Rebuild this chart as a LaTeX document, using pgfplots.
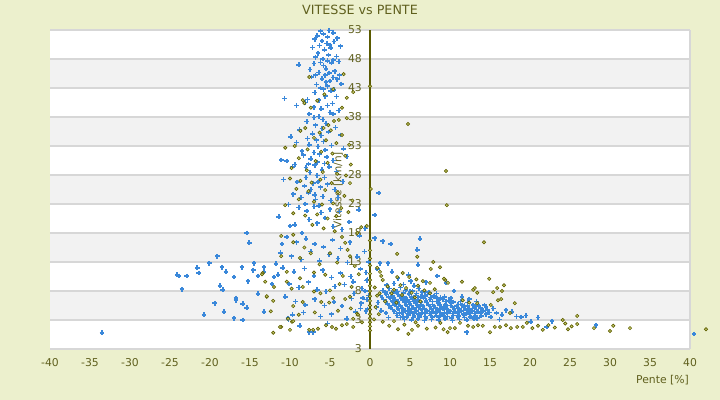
\documentclass[border=0pt]{standalone}
\usepackage{pgfplots}
\pgfplotsset{compat=1.18}
\usepackage{fontspec}
\setmainfont{DejaVu Sans}
\definecolor{bg}{RGB}{236,240,205}
\definecolor{band}{RGB}{242,242,242}
\definecolor{gridc}{RGB}{215,215,215}
\definecolor{olivetxt}{RGB}{96,96,30}
\definecolor{axisc}{RGB}{90,90,0}
\definecolor{blues}{RGB}{58,136,218}
\definecolor{olives}{RGB}{95,95,0}
\definecolor{olivefill}{RGB}{205,210,120}

\pgfplotstableread{
x y
-6.2 52.8
-5.1 52.9
-5.8 52.3
-4.6 52.5
-6.9 51.4
-6.0 51.1
-5.4 50.7
-4.5 51.0
-7.2 50.0
-5.7 49.6
-4.9 49.9
-3.7 50.2
-6.5 49.0
-5.2 48.7
-4.2 48.4
-8.9 47.0
-7.0 47.2
-5.8 46.9
-4.8 47.3
-5.5 46.3
-6.4 45.7
-4.4 45.9
-3.8 45.2
-6.0 44.6
-5.0 44.2
-7.3 44.9
-5.6 45.2
-4.6 44.8
-6.7 43.6
-5.3 43.3
-3.6 43.7
-4.5 42.7
-10.7 41.2
-6.9 42.2
-5.6 41.6
-7.8 41.0
-9.2 40.0
-8.1 40.5
-4.7 40.3
-6.1 39.4
-5.0 38.8
-7.6 38.5
-6.4 38.1
-3.9 39.1
-6.6 52.0
-5.3 51.8
-4.1 51.6
-6.3 50.3
-5.0 50.4
-6.8 48.3
-5.9 48.0
-4.6 47.8
-3.9 47.6
-6.2 47.4
-5.3 47.7
-7.5 46.2
-6.8 45.2
-5.1 45.6
-4.1 44.5
-5.5 44.0
-6.2 43.0
-4.9 42.5
-5.8 42.8
-4.2 41.5
-6.4 40.9
-5.3 40.0
-7.0 39.7
-4.6 38.5
-5.9 37.6
-7.0 37.9
-6.0 36.0
-7.8 34.3
-6.7 34.0
-5.6 32.3
-7.0 31.9
-6.6 30.2
-7.7 29.9
-5.7 30.0
-8.0 27.6
-6.5 26.8
-7.4 25.5
-6.9 24.6
-8.1 23.0
-6.4 22.7
-9.9 34.6
-11.1 30.6
-10.4 30.4
-8.5 32.1
-9.7 29.4
-7.9 37.2
-6.8 36.6
-5.5 36.9
-4.3 36.2
-8.8 35.8
-7.2 35.1
-6.1 34.8
-5.2 35.4
-3.7 34.9
-9.2 33.6
-7.6 33.2
-6.5 32.9
-5.8 33.8
-4.8 33.1
-3.3 32.5
-8.3 31.4
-7.4 30.8
-6.3 31.6
-5.4 31.1
-4.6 30.5
-2.9 31.2
-9.4 29.8
-8.0 29.3
-6.9 29.7
-6.0 28.9
-5.1 29.4
-4.2 28.6
-7.5 28.4
-6.6 27.9
-5.7 27.6
-10.8 27.2
-9.1 26.8
-8.2 26.1
-7.1 26.6
-6.2 25.9
-5.3 26.4
-4.4 25.5
-3.4 26.9
-9.6 24.7
-8.6 24.1
-7.7 24.9
-6.8 23.8
-5.9 24.3
-4.9 23.6
-4.0 24.1
-10.2 22.9
-8.9 22.4
-7.9 21.8
-7.0 22.6
-6.1 21.5
-5.0 22.1
-3.8 21.7
-11.4 20.8
-10.0 19.2
-9.4 19.4
-8.5 18.0
-7.6 20.3
-6.6 19.7
-5.6 20.6
-4.6 19.1
-3.5 18.6
-2.6 19.9
-1.4 22.0
-0.6 18.8
-10.4 17.3
-9.2 16.4
-8.0 17.0
-6.9 16.1
-5.8 15.6
-4.7 16.8
-3.7 15.3
-2.5 16.4
-1.3 17.5
-11.2 14.6
-9.8 14.0
-8.6 13.4
-7.4 14.8
-6.3 13.2
-5.1 14.3
-4.0 13.6
-2.8 12.9
-1.6 13.9
-0.7 14.8
-10.9 12.0
-9.5 11.3
-8.2 11.9
-7.0 10.6
-5.9 11.6
-4.8 10.3
-3.7 11.1
-2.4 10.5
-2.1 9.6
-1.2 11.8
-0.4 9.8
-10.1 9.2
-8.9 8.6
-7.7 9.5
-6.6 8.2
-5.5 7.9
-4.4 8.8
-3.2 9.1
-2.0 7.6
-1.0 8.4
-10.6 7.0
-9.3 6.2
-8.1 5.6
-6.9 6.6
-5.7 5.5
-4.5 6.1
-3.5 5.4
-2.3 6.7
-1.1 5.9
-0.4 6.5
-0.3 4.9
-9.7 3.9
-8.3 4.3
-6.2 3.6
-4.8 4.0
-2.9 3.2
-1.8 4.4
-10.2 3.1
-8.8 2.0
-7.6 0.9
-7.1 0.9
-5.3 2.4
-0.2 13.0
-0.5 11.2
-0.3 10.0
-0.6 8.0
-0.2 7.2
-0.9 6.8
-1.2 5.0
-0.5 4.5
-15.4 18.0
-15.1 16.3
-19.1 14.0
-20.1 12.8
-21.6 12.0
-21.4 11.1
-23.9 10.6
-22.9 10.6
-23.5 8.3
-18.5 12.1
-18.0 11.3
-17.0 10.4
-16.0 12.1
-15.25 9.7
-18.75 8.9
-18.4 8.2
-19.4 5.9
-16.75 6.8
-16.75 6.4
-15.9 5.8
-15.4 5.1
-18.25 4.4
-20.75 3.9
-17.0 3.3
-15.9 3.0
-14.5 12.8
-14.6 11.6
-14.0 10.6
-13.25 12.1
-13.25 11.3
-14.0 7.5
-13.25 4.4
-12.0 10.4
-11.75 12.7
-11.0 16.1
-11.5 10.8
-12.25 9.2
-10.25 3.3
-8.75 2.0
-24.1 10.8
-33.5 0.8
1.6 8.1
2.4 8.4
3.1 7.9
3.8 8.6
4.5 8.2
5.3 8.0
6.1 8.4
6.9 7.8
1.3 7.2
2.0 7.5
2.8 7.1
3.5 7.4
4.2 7.0
4.9 7.5
5.7 7.2
6.4 7.0
7.2 7.4
8.0 7.1
8.8 6.9
1.7 6.5
2.5 6.8
3.2 6.4
3.9 6.7
4.6 6.3
5.3 6.6
6.0 6.4
6.7 6.8
7.5 6.5
8.3 6.2
9.1 6.6
9.9 6.3
2.2 5.8
2.9 6.0
3.6 5.7
4.3 6.1
5.0 5.8
5.7 5.9
6.4 5.6
7.1 6.0
7.8 5.7
8.6 5.9
9.4 5.6
10.2 5.9
11.0 5.7
11.8 5.5
2.6 5.1
3.3 5.3
4.0 5.0
4.7 5.3
5.4 5.1
6.1 5.2
6.8 4.9
7.5 5.3
8.2 5.0
8.9 5.2
9.6 4.9
10.3 5.2
11.0 5.0
11.7 5.2
12.4 4.9
13.1 5.1
13.8 5.0
14.5 5.2
3.0 4.5
3.7 4.3
4.4 4.6
5.1 4.4
5.8 4.6
6.5 4.3
7.2 4.5
7.9 4.4
8.6 4.6
9.3 4.3
10.0 4.5
10.7 4.4
11.4 4.6
12.1 4.3
12.8 4.5
13.5 4.4
14.2 4.6
14.9 4.3
3.4 3.8
4.1 3.6
4.8 3.9
5.5 3.7
6.2 3.9
6.9 3.6
7.6 3.8
8.3 3.7
9.0 3.9
9.7 3.6
10.4 3.8
11.1 3.7
11.8 3.9
12.5 3.6
13.2 3.8
13.9 3.7
4.3 3.1
5.2 3.0
6.0 3.2
6.8 2.9
7.7 3.1
8.6 3.0
9.4 3.2
10.3 2.9
11.2 3.1
12.1 3.0
13.0 3.2
1.9 7.8
2.7 7.7
3.4 7.9
4.2 7.7
5.0 7.9
5.8 7.6
6.5 7.8
7.4 7.7
8.3 7.6
1.5 6.9
2.3 7.0
3.0 6.9
3.7 7.1
4.5 6.8
5.2 7.0
6.0 6.9
6.8 7.1
7.6 6.9
8.4 6.8
9.3 7.0
10.1 6.8
2.0 6.2
2.8 6.3
3.5 6.2
4.2 6.4
4.9 6.2
5.6 6.3
6.3 6.1
7.0 6.3
7.8 6.2
8.6 6.4
9.5 6.2
10.4 6.1
11.3 6.2
12.2 6.0
2.4 5.5
3.1 5.6
3.8 5.4
4.5 5.6
5.2 5.5
5.9 5.6
6.6 5.4
7.3 5.6
8.0 5.4
8.7 5.6
9.4 5.3
10.1 5.5
10.8 5.4
11.5 5.6
12.2 5.4
12.9 5.6
13.6 5.4
14.3 5.6
2.8 4.8
3.5 4.9
4.2 4.8
4.9 4.9
5.6 4.8
6.3 4.9
7.0 4.7
7.7 4.9
8.4 4.8
9.1 4.9
9.8 4.7
10.5 4.9
11.2 4.8
11.9 4.9
12.6 4.7
13.3 4.8
14.0 4.9
14.7 4.7
3.3 4.1
4.0 4.2
4.7 4.1
5.4 4.2
6.1 4.0
6.8 4.2
7.5 4.1
8.2 4.2
8.9 4.0
9.6 4.2
10.3 4.1
11.0 4.2
11.7 4.0
12.4 4.2
13.1 4.1
13.8 4.2
14.5 4.0
3.8 3.4
4.6 3.5
5.4 3.4
6.2 3.5
7.0 3.3
7.8 3.5
8.6 3.4
9.4 3.5
10.2 3.3
11.0 3.5
11.8 3.4
12.6 3.5
13.4 3.3
2.1 9.0
3.0 9.3
4.2 9.1
5.5 8.9
1.0 6.0
0.8 5.2
1.4 4.6
2.0 4.2
2.3 3.4
15.4 5.0
15.8 4.2
16.5 3.9
17.0 4.7
17.75 4.4
18.3 3.6
18.9 3.5
19.5 3.8
20.1 2.7
21.0 3.4
22.75 2.8
22.1 1.8
16.2 3.1
15.1 3.5
12.1 0.9
28.25 2.1
40.5 0.6
0.6 17.1
1.6 16.6
2.6 16.1
6.25 17.0
5.9 15.1
6.0 12.5
1.25 12.8
2.25 12.8
0.9 11.8
2.75 11.3
8.4 10.6
9.5 9.4
1.1 24.9
0.6 21.1
10.5 8.0
11.5 7.0
12.4 6.6
13.3 6.2
7.0 9.5
3.5 10.2
4.8 10.8
5.1 9.7
}\bluedata

\pgfplotstableread{
x y
-7.6 44.9
-3.3 45.4
-2.1 42.3
-2.9 41.3
-8.4 40.9
-8.2 40.4
-7.4 39.6
-6.6 40.8
-5.7 41.9
-4.6 42.8
-3.5 39.6
-2.9 37.8
-3.9 37.5
-4.5 37.3
-5.2 36.6
-5.8 36.1
-4.9 35.7
-6.3 35.3
-8.1 36.1
-8.7 35.6
-3.5 34.9
-7.0 34.4
-5.5 34.0
-4.2 33.5
-2.6 33.2
-9.4 33.0
-10.6 32.7
-7.8 32.4
-6.1 32.0
-4.7 31.7
-3.1 31.3
-8.9 30.9
-6.8 30.4
-5.3 30.1
-2.4 29.8
-9.8 29.2
-7.9 28.8
-5.9 28.5
-4.1 28.2
-3.0 27.9
-10.0 27.4
-8.7 27.0
-7.3 26.7
-6.2 27.2
-4.8 26.6
-2.5 26.6
-9.2 25.6
-7.7 25.2
-5.6 25.4
-4.0 25.0
-3.2 24.4
-10.6 22.8
-8.9 23.8
-7.0 23.4
-6.0 22.9
-4.6 23.1
-3.6 22.3
-2.2 23.6
-9.6 21.4
-8.1 21.0
-6.6 21.2
-5.3 20.5
-4.2 20.9
-2.7 21.6
-1.1 19.0
-0.4 19.2
-1.6 18.0
-7.2 19.4
-5.8 18.8
-4.4 18.3
-3.5 17.3
-9.6 17.7
-11.1 17.5
-9.6 16.4
-8.2 15.5
-7.4 14.5
-5.0 14.5
-3.1 16.3
-2.8 15.1
-2.5 14.0
-11.1 14.0
-8.75 13.7
-6.3 12.6
-4.1 12.9
-1.9 12.3
-13.4 11.1
-10.4 11.3
-8.75 10.2
-7.0 11.2
-5.6 10.8
-3.4 10.6
-1.4 10.9
-13.1 9.6
-12.0 8.7
-10.4 9.6
-9.8 8.4
-8.4 8.7
-7.0 7.9
-6.2 7.6
-5.0 8.1
-4.6 6.8
-3.8 9.2
-2.3 8.7
-12.9 7.0
-12.1 6.3
-9.6 5.4
-8.4 6.1
-6.1 6.1
-5.1 6.0
-3.1 6.6
-2.5 7.0
-2.4 5.0
-1.6 4.1
-2.1 3.2
-1.5 3.9
-10.25 3.2
-9.75 2.7
-11.1 1.8
-12.1 0.8
-7.6 1.3
-7.1 1.3
-6.5 1.5
-5.5 2.1
-4.75 1.8
-4.25 1.5
-3.5 2.1
-2.9 2.3
-2.1 1.8
-6.9 4.3
-8.9 3.9
-4.0 4.6
-1.0 2.6
-13.5 10.9
-12.9 7.1
-12.4 4.5
-11.25 1.8
-10.0 1.3
-9.6 2.8
0.0 1.2
0.0 1.9
0.0 2.6
0.0 3.3
0.0 4.0
0.0 4.8
0.0 5.5
0.0 6.3
0.0 7.1
0.0 8.0
0.0 8.9
0.0 9.9
0.0 11.0
0.0 12.4
0.0 13.6
0.0 15.0
0.0 16.7
0.1 25.6
0.0 43.3
0.6 8.6
0.9 7.2
0.7 5.2
1.1 4.0
0.5 3.1
0.9 12.0
1.25 11.3
1.4 10.6
1.6 9.9
3.4 10.4
4.1 11.1
3.4 14.4
5.9 13.9
7.9 13.0
8.75 12.1
7.6 11.8
14.25 16.4
4.9 10.4
5.8 10.0
6.6 9.7
7.5 9.4
9.4 9.9
9.75 9.4
9.25 10.1
11.5 9.6
14.9 10.1
16.75 9.0
12.9 8.2
13.4 7.7
13.1 8.5
15.4 7.8
15.9 8.5
16.5 8.0
16.4 6.6
16.0 6.4
18.1 5.9
11.6 6.4
12.4 6.0
13.4 5.9
15.1 5.6
17.5 4.2
2.2 8.8
3.0 8.2
3.8 9.0
4.5 8.5
5.2 7.7
6.0 8.9
6.8 8.1
7.5 7.6
2.7 7.6
4.0 7.3
5.6 6.9
8.1 8.3
1.9 6.2
1.2 7.6
3.3 6.0
6.3 6.2
1.6 2.7
2.4 2.0
3.5 1.4
4.3 2.2
5.25 1.3
6.0 2.0
7.1 1.5
8.2 1.7
9.2 1.4
10.0 1.6
10.6 1.6
11.25 2.5
12.25 2.0
12.9 1.8
13.5 2.1
14.1 2.0
15.0 0.9
15.6 1.8
16.25 1.8
17.0 2.1
17.6 1.6
18.4 1.8
19.1 1.8
19.6 2.5
20.3 1.6
21.0 2.0
21.6 1.3
22.3 2.1
23.1 1.7
24.1 3.0
24.4 2.4
24.75 1.4
25.2 1.9
25.9 3.7
25.9 2.3
28.0 1.6
30.0 1.1
30.4 2.0
32.5 1.6
42.0 1.4
3.0 2.8
5.7 2.6
8.8 2.5
4.8 0.6
9.7 0.9
4.75 36.8
9.5 28.7
9.6 22.8
}\olivedata

\begin{document}
\begin{tikzpicture}[x=1pt,y=1pt]
\begin{axis}[
  set layers,
  at={(50pt,51pt)}, anchor=south west,
  scale only axis, width=640pt, height=319pt,
  xmin=-40, xmax=40, ymin=-2, ymax=53,
  clip=false,
  axis x line=bottom, axis y line=center,
  x axis line style={-, draw=gridc, line width=1.5pt},
  y axis line style={-, draw=axisc, line width=1.4pt},
  xtick={-40,-35,...,40},
  ytick={-2,3,8,13,18,23,28,33,38,43,48,53},
  yticklabels={3,3,8,13,18,23,28,33,38,43,48,53},
  hide obscured x ticks=false, hide obscured y ticks=false,
  major tick length=0pt,
  /pgf/number format/assume math mode=true,
  ymajorgrids, grid style={draw=gridc, line width=1.2pt},
  tick label style={font=\fontsize{10.8}{12}\selectfont, text=olivetxt},
  xticklabel style={yshift=-6.4pt},
  yticklabel style={xshift=-4.7pt},
]
\begin{pgfonlayer}{axis background}
\fill[bg] (axis cs:-46.25,-10.793) rectangle (axis cs:43.75,58.172);
\fill[white] (axis cs:-40,-2) rectangle (axis cs:40,53);
\fill[band] (axis cs:-40,43) rectangle (axis cs:40,48);
\fill[band] (axis cs:-40,33) rectangle (axis cs:40,38);
\fill[band] (axis cs:-40,23) rectangle (axis cs:40,28);
\fill[band] (axis cs:-40,13) rectangle (axis cs:40,18);
\fill[band] (axis cs:-40,3) rectangle (axis cs:40,8);
\end{pgfonlayer}
\begin{pgfonlayer}{axis grid}
\draw[gridc, line width=1.5pt] (axis cs:40,-2) -- (axis cs:40,53);
\end{pgfonlayer}
\node[rotate=90, font=\fontsize{10.5}{12}\selectfont, text=olivetxt] at (axis cs:-4,25.4) {Vitesse [km/h]};
\addplot[only marks, mark=+, mark size=2.4pt, draw=blues, line width=1.6pt] table {\bluedata};
\addplot[only marks, mark=square*, mark size=1.15pt, mark options={rotate=45, draw=olives, fill=olivefill, line width=0.65pt}] table {\olivedata};
\end{axis}
\node[font=\fontsize{12.7}{15}\selectfont, text=olivetxt] at (360,390) {VITESSE vs PENTE};
\node[font=\fontsize{10.8}{12}\selectfont, text=olivetxt, anchor=east, inner sep=0pt] at (689,20) {Pente [\%]};
\end{tikzpicture}
\end{document}
